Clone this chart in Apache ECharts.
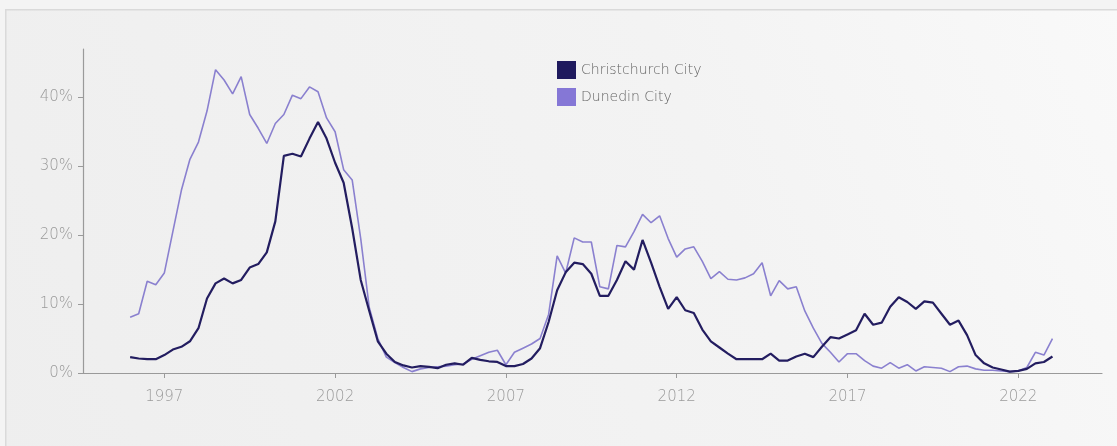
<!DOCTYPE html>
<html>
<head>
<meta charset="utf-8">
<script src="https://cdn.jsdelivr.net/npm/echarts@6/dist/echarts.min.js"></script>
<style>
html,body{margin:0;padding:0;background:#f3f3f3;}
#chart{width:1117px;height:446px;}
</style>
</head>
<body>
<div id="chart"></div>
<script>
// Quarterly series starting 1996 Q1
const startYear = 1996;
const seriesNames = ['Christchurch City', 'Dunedin City'];
const xTickYears = [1997, 2002, 2007, 2012, 2017, 2022];
const yTickValues = [0, 10, 20, 30, 40];

const christchurch = [
  2.3, 2.1, 2.0, 2.0, 2.6, 3.4, 3.8, 4.6, 6.5, 10.8, 13.0, 13.7, 13.0, 13.5, 15.3, 15.8,
  17.5, 22.0, 31.5, 31.8, 31.4, 34.0, 36.4, 34.0, 30.5, 27.6, 21.0, 13.5, 9.0, 4.6, 2.8, 1.6,
  1.1, 0.8, 1.0, 0.9, 0.7, 1.2, 1.4, 1.2, 2.2, 1.9, 1.7, 1.6, 1.0, 1.0, 1.3, 2.1,
  3.6, 7.4, 12.0, 14.6, 16.0, 15.8, 14.4, 11.2, 11.2, 13.5, 16.2, 15.0, 19.3, 16.0, 12.5, 9.3,
  11.0, 9.1, 8.7, 6.3, 4.6, 3.7, 2.8, 2.0, 2.0, 2.0, 2.0, 2.8, 1.8, 1.8, 2.4, 2.8,
  2.3, 3.8, 5.2, 5.0, 5.6, 6.2, 8.6, 7.0, 7.3, 9.6, 11.0, 10.3, 9.3, 10.4, 10.2, 8.6,
  7.0, 7.6, 5.5, 2.6, 1.4, 0.8, 0.5, 0.2, 0.3, 0.6, 1.4, 1.6, 2.4
];
const dunedin = [
  8.1, 8.6, 13.3, 12.8, 14.5, 20.5, 26.5, 31.0, 33.5, 38.0, 44.0, 42.5, 40.5, 43.0, 37.5, 35.5,
  33.3, 36.2, 37.5, 40.3, 39.8, 41.5, 40.8, 37.0, 35.0, 29.5, 28.0, 19.5, 9.5, 5.0, 2.3, 1.5,
  0.8, 0.2, 0.6, 0.8, 0.9, 1.0, 1.2, 1.3, 2.0, 2.5, 3.0, 3.3, 1.2, 3.0, 3.6, 4.2,
  5.0, 8.5, 17.0, 14.5, 19.6, 19.0, 19.0, 12.5, 12.2, 18.5, 18.3, 20.5, 23.0, 21.8, 22.8, 19.5,
  16.8, 18.0, 18.3, 16.2, 13.7, 14.7, 13.6, 13.5, 13.8, 14.4, 16.0, 11.2, 13.4, 12.2, 12.5, 9.0,
  6.5, 4.3, 3.0, 1.6, 2.8, 2.8, 1.8, 1.0, 0.7, 1.5, 0.7, 1.2, 0.3, 0.9, 0.8, 0.7,
  0.2, 0.9, 1.0, 0.6, 0.4, 0.4, 0.3, 0.2, 0.3, 0.8, 3.0, 2.6, 5.0
];

function toPairs(values) {
  return values.map((v, i) => [startYear + i / 4, v]);
}

const chart = echarts.init(document.getElementById('chart'), null, {renderer: 'canvas'});
const font = 'DejaVu Sans';
chart.setOption({
  backgroundColor: '#f4f4f4',
  animation: false,
  graphic: [{
    type: 'rect',
    left: 5, top: 9, z: -10, silent: true,
    shape: {width: 1200, height: 500},
    style: {
      fill: new echarts.graphic.LinearGradient(0, 1, 1, 0, [
        {offset: 0, color: '#eeeeee'},
        {offset: 0.6, color: '#f3f3f3'},
        {offset: 1, color: '#fafafa'}
      ]),
      stroke: '#dadada', lineWidth: 1.5
    }
  }],
  grid: {left: 83, right: 15, top: 49, bottom: 73, containLabel: false},
  legend: {
    orient: 'vertical', left: 552, top: 56, itemWidth: 19, itemHeight: 18, itemGap: 9,
    icon: 'rect',
    textStyle: {color: '#666666', fontFamily: font, fontSize: 14, fontWeight: 200},
    data: seriesNames
  },
  xAxis: {
    type: 'value', min: 1994.62, max: 2024.45,
    axisLine: {show: true, onZero: false, lineStyle: {color: '#9a9a9a', width: 1.2}},
    axisTick: {show: true, length: 5, lineStyle: {color: '#9a9a9a'}, customValues: xTickYears},
    axisLabel: {color: '#9a9a9a', fontFamily: font, fontSize: 15, fontWeight: 200, margin: 17,
      customValues: xTickYears, formatter: v => String(v)},
    splitLine: {show: false}
  },
  yAxis: {
    type: 'value', min: 0, max: 47,
    axisLine: {show: true, lineStyle: {color: '#9a9a9a', width: 1.2}},
    axisTick: {show: true, length: 5, lineStyle: {color: '#9a9a9a'}, customValues: yTickValues},
    axisLabel: {color: '#9a9a9a', fontFamily: font, fontSize: 15, fontWeight: 200, margin: 10,
      customValues: yTickValues, formatter: v => v + '%'},
    splitLine: {show: false}
  },
  series: [
    {name: seriesNames[0], type: 'line', data: toPairs(christchurch), showSymbol: false,
      symbol: 'none', color: '#1f1a5e', lineStyle: {width: 2.2, color: '#231d60'}, z: 3},
    {name: seriesNames[1], type: 'line', data: toPairs(dunedin), showSymbol: false,
      symbol: 'none', color: '#8577d6', lineStyle: {width: 1.6, color: '#8a80cf'}, z: 2}
  ]
});
</script>
</body>
</html>
